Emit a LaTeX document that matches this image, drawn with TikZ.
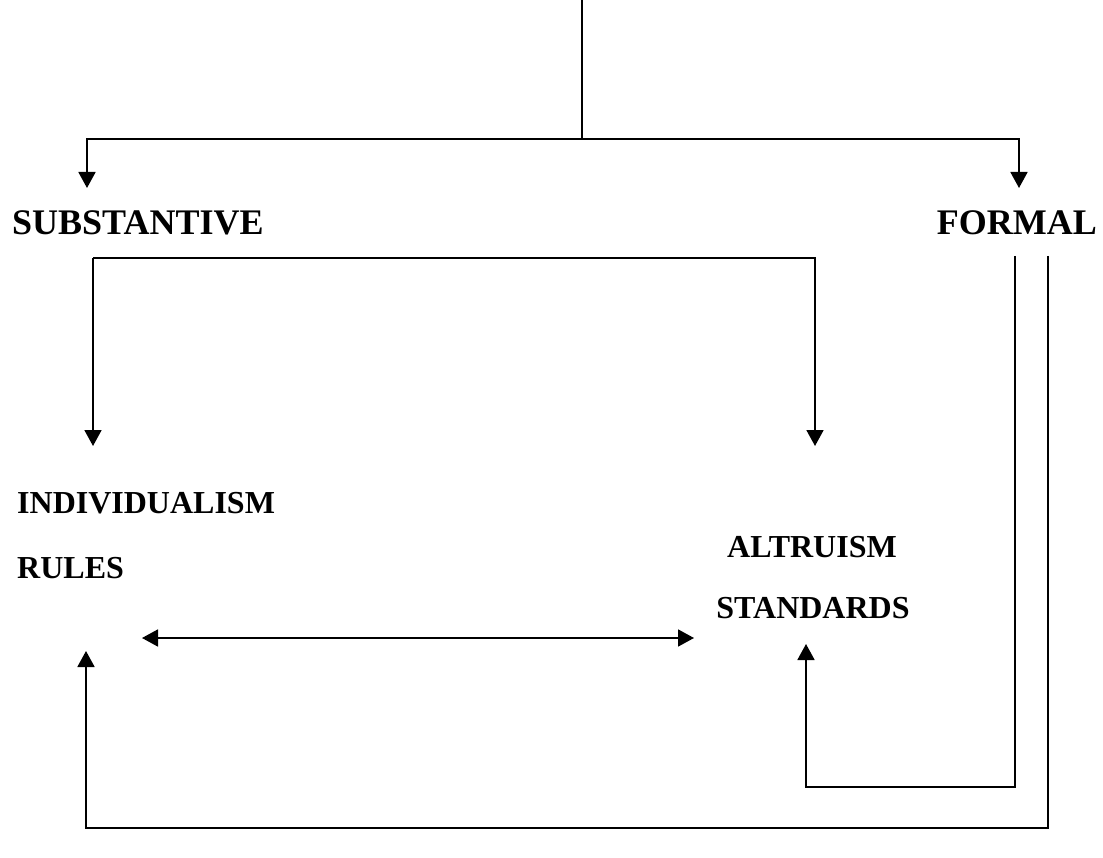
\documentclass[tikz,border=0pt]{standalone}
\usepackage{fontspec}
\setmainfont{Liberation Serif}
\usetikzlibrary{arrows.meta}
\begin{document}
\begin{tikzpicture}[x=1pt,y=-1pt,
  conn/.style={line width=1.8pt, line join=miter},
  arr/.style={conn, -{Triangle[width=17pt,length=16pt]}},
  darr/.style={conn, {Triangle[width=17pt,length=16pt]}-{Triangle[width=17pt,length=16pt]}},
  big/.style={inner sep=0pt, font=\fontsize{36}{40}\selectfont\bfseries},
  small/.style={inner sep=0pt, font=\fontsize{32}{36}\selectfont\bfseries}]
\path[use as bounding box] (0,0) rectangle (1103,858);
% text nodes
\node[big, anchor=base west] (sub) at (12,235) {SUBSTANTIVE};
\node[big, anchor=base east] (formal) at (1097,235) {FORMAL};
\node[small, anchor=base west] (indiv) at (17,513) {INDIVIDUALISM};
\node[small, anchor=base west] (rules) at (17,578) {RULES};
\node[small, anchor=base] (altr) at (812,557) {ALTRUISM};
\node[small, anchor=base] (stand) at (813,618) {STANDARDS};
% coordinates
\coordinate (top) at (582,0);
\coordinate (split) at (582,139);
\coordinate (subtip) at (87,188);
\coordinate (formtip) at (1019,188);
\coordinate (brL) at (93,446);
\coordinate (brR) at (815,446);
\coordinate (dl) at (142,638);
\coordinate (dr) at (694,638);
\coordinate (in0) at (1015,256);
\coordinate (intip) at (806,644);
\coordinate (out0) at (1048,256);
\coordinate (outtip) at (86,651);
% connectors
\draw[conn] (top) -- (split);
\draw[arr] (split) -| (subtip);
\draw[arr] (split) -| (formtip);
\draw[arr] (brL |- 0,258) -- (brL);
\draw[arr] (brL |- 0,258) -- (brR |- 0,258) -- (brR);
\draw[darr] (dl) -- (dr);
\draw[arr] (in0) -- (in0 |- 0,787) -- (intip |- 0,787) -- (intip);
\draw[arr] (out0) -- (out0 |- 0,828) -- (outtip |- 0,828) -- (outtip);
\end{tikzpicture}
\end{document}
